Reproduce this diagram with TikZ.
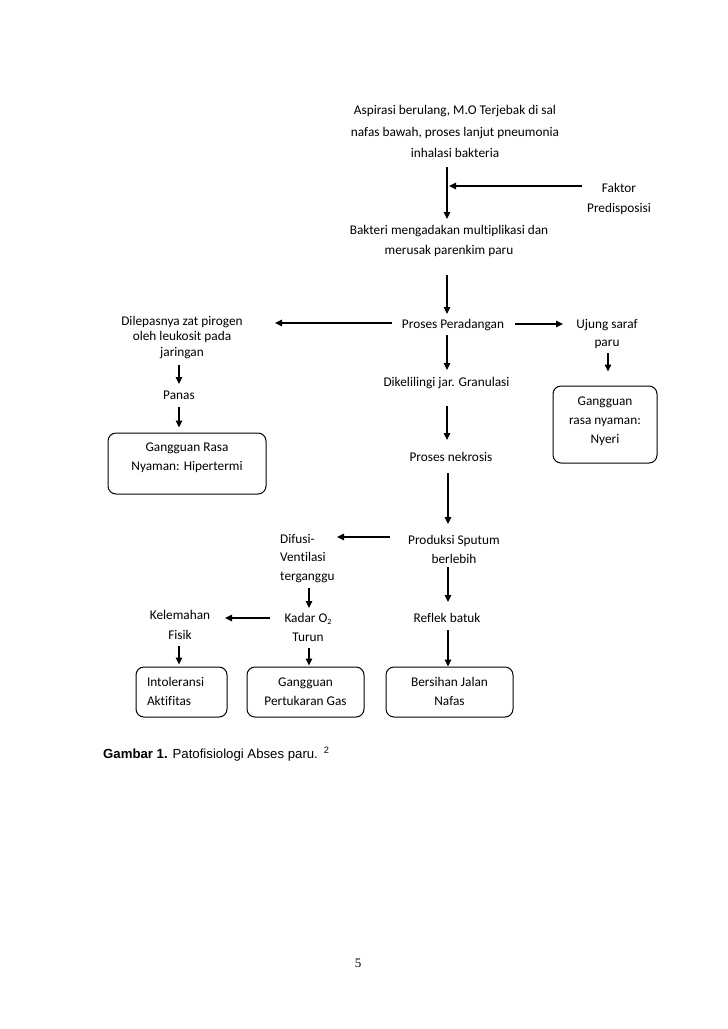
\documentclass[tikz,border=0pt]{standalone}
\usepackage{fontspec}
\setmainfont{Carlito}[Ligatures=NoCommon]
\newfontfamily\capfont{Liberation Sans}[Ligatures=NoCommon]
\newfontfamily\pgfont{Liberation Serif}
\usetikzlibrary{arrows.meta}
\newcommand\tst[1]{\rule{0pt}{#1}}
\newcommand\bst[1]{\rule[-#1]{0pt}{#1}}
\begin{document}
\begin{tikzpicture}[x=1pt,y=-1pt,
  txt/.style={inner sep=0pt, align=center, font=\fontsize{13.3}{19}\selectfont},
  arr/.style={line width=1.2pt, -{Triangle[length=7pt,width=6.5pt]}},
  box/.style={draw, line width=1pt, rounded corners=8pt, inner xsep=0pt, inner ysep=0pt,
              align=center, font=\fontsize{13.3}{19}\selectfont},
]
\useasboundingbox[fill=white] (0,0) rectangle (728,1029);

% text nodes
\node[txt, font=\fontsize{13.3}{21.5}\selectfont] (asp) at (455,131.5)
  {Aspirasi berulang, M.O Terjebak di sal\\nafas bawah, proses lanjut pneumonia\\inhalasi bakteria};
\node[txt, font=\fontsize{13.3}{19.5}\selectfont] (faktor) at (619,199) {Faktor\\Predisposisi};
\coordinate (j) at (449,186);
\node[txt, font=\fontsize{13.3}{19.5}\selectfont] (bak) at (449,241)
  {Bakteri mengadakan multiplikasi dan\\merusak parenkim paru};
\node[txt] (perad) at (453,325) {Proses Peradangan};
\node[txt, font=\fontsize{13.3}{15.8}\selectfont] (dile) at (182,337.5)
  {Dilepasnya zat pirogen\\oleh leukosit pada\\jaringan};
\node[txt] (panas) at (179,395) {Panas};
\node[txt, font=\fontsize{13.3}{18}\selectfont] (ujung) at (607,334) {Ujung saraf\\paru};
\node[txt] (dikel) at (446.5,383) {Dikelilingi jar. Granulasi};
\node[txt] (nekro) at (451,457) {Proses nekrosis};
\node[txt] (sputum) at (454,549.5) {Produksi Sputum\\berlebih};
\node[txt, align=left, anchor=west, font=\fontsize{13.3}{18.5}\selectfont] (difusi) at (280,558.5)
  {Difusi-\\Ventilasi\\terganggu};
\node[txt] (kadar) at (308,627.5) {Kadar O\raisebox{-2pt}{\fontsize{8}{8}\selectfont 2}\\Turun};
\node[txt, font=\fontsize{13.3}{20}\selectfont] (kelem) at (180,625) {Kelemahan\\Fisik};
\node[txt] (reflek) at (447,618) {Reflek batuk};

% boxes
\node[box, minimum width=158pt] (box1) at (187,463.5)
  {\tst{18pt}Gangguan Rasa\\Nyaman: Hipertermi\bst{24pt}};
\node[box, minimum width=104pt] (box2) at (605,424.5)
  {\tst{19pt}Gangguan\\rasa nyaman:\\Nyeri\bst{20pt}};
\node[box, align=left, text width=69pt, inner xsep=11pt] (intol) at (181.5,692)
  {\tst{19pt}Intoleransi\\Aktifitas\bst{12pt}};
\node[box, minimum width=117pt] (gas) at (305.5,692)
  {\tst{19pt}Gangguan\\Pertukaran Gas\bst{12pt}};
\node[box, minimum width=127pt] (bersih) at (449.5,692)
  {\tst{19pt}Bersihan Jalan\\Nafas\bst{12pt}};

% connectors
\draw[arr, shorten <=35.5pt, shorten >=22pt] (asp.center -| 447,0) -- (bak.center -| 447,0);
\draw[arr, shorten <=37pt] (faktor.center |- j) -- (j);
\draw[arr, shorten <=34pt, shorten >=11pt] (bak.center -| 447,0) -- (perad.center -| 447,0);
\draw[arr, shorten <=61pt, shorten >=93pt] (perad.center |- 0,323) -- (dile.center |- 0,323);
\draw[arr, shorten <=62pt, shorten >=44pt] (perad.center |- 0,324) -- (ujung.center |- 0,324);
\draw[arr, shorten <=27pt, shorten >=11pt] (dile.center -| 179,0) -- (panas.center -| 179,0);
\draw[arr, shorten <=12pt, shorten >=5pt] (panas.center -| 179,0) -- (box1.north -| 179,0);
\draw[arr, shorten <=19pt, shorten >=14pt] (ujung.center -| 608,0) -- (box2.north -| 608,0);
\draw[arr, shorten <=10pt, shorten >=13pt] (perad.center -| 447,0) -- (dikel.center -| 447,0);
\draw[arr, shorten <=23pt, shorten >=17pt] (dikel.center -| 447,0) -- (nekro.center -| 447,0);
\draw[arr, shorten <=16pt, shorten >=25.5pt] (nekro.center -| 448,0) -- (sputum.center -| 448,0);
\draw[arr, shorten <=64pt, shorten >=57pt] (sputum.center |- 0,537) -- (difusi.west |- 0,537);
\draw[arr, shorten <=29.5pt, shorten >=19.5pt] (difusi.center -| 309,0) -- (kadar.center -| 309,0);
\draw[arr, shorten <=38pt, shorten >=45pt] (kadar.center |- 0,618) -- (kelem.center |- 0,618);
\draw[arr, shorten <=21pt, shorten >=2pt] (kelem.center -| 179,0) -- (intol.north -| 179,0);
\draw[arr, shorten <=20.5pt, shorten >=1pt] (kadar.center -| 309,0) -- (gas.north -| 309,0);
\draw[arr, shorten <=17.5pt, shorten >=16pt] (sputum.center -| 448,0) -- (reflek.center -| 448,0);
\draw[arr, shorten <=12pt] (reflek.center -| 448,0) -- (bersih.north -| 448,0);

% caption and page number
\node[anchor=base west, inner sep=0pt, font=\capfont\fontsize{13.2}{15}\selectfont] (cap) at (103,758)
  {\textbf{Gambar 1.} Patofisiologi Abses paru.\hspace{6pt}\textsuperscript{2}};
\node[inner sep=0pt, font=\pgfont\fontsize{13}{15}\selectfont] (pg) at (358,963) {5};
\end{tikzpicture}
\end{document}
